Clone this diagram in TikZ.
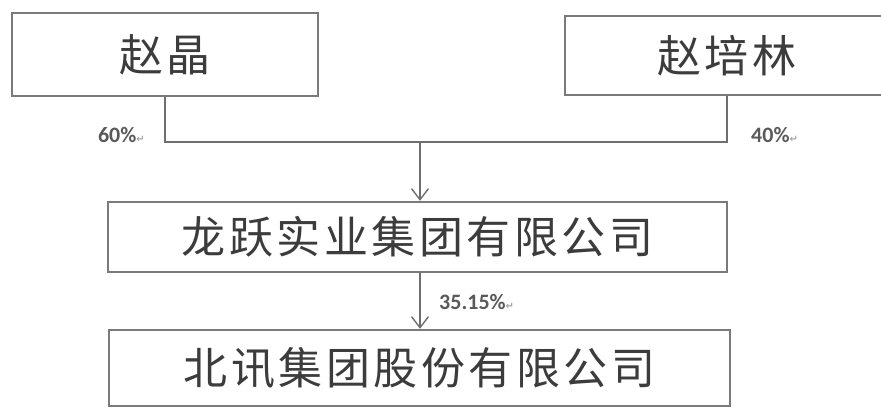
\documentclass[tikz,border=0pt]{standalone}
\usepackage{fontspec}
\usetikzlibrary{arrows.meta}
\newfontfamily\cjk[LetterSpace=8]{Noto Sans CJK SC}
\newfontfamily\pctfont{Carlito}
\newfontfamily\symfont{DejaVu Sans}
\definecolor{boxline}{HTML}{7A7A7A}
\definecolor{conline}{HTML}{6E6E6E}
\definecolor{txt}{HTML}{3C3C3C}
\definecolor{pct}{HTML}{5A5A5A}
\newcommand{\retmark}{{\symfont\fontsize{10}{10}\selectfont\color{gray!70}↵}}
\tikzset{
  entbox/.style={draw=boxline, line width=2.4pt, inner sep=0pt, text=txt,
    font=\cjk\fontsize{44}{50}\selectfont},
  conn/.style={draw=conline, line width=1.8pt},
  arr/.style={conn, -{Straight Barb[length=11pt,width=17pt,line width=1.4pt]}},
  pctlabel/.style={inner sep=0pt, text=pct, font=\pctfont\bfseries\fontsize{22}{24}\selectfont}
}
\begin{document}
\begin{tikzpicture}[x=1pt,y=-1pt]
\useasboundingbox[fill=white] (0,0) rectangle (881,409);
\clip (0,0) rectangle (881,409);
\node[entbox, minimum width=306pt, minimum height=83pt] (b1) at (165,54.5) {赵晶};
\node[entbox, minimum width=324pt, minimum height=79pt] (b2) at (727,55.5) {赵培林};
\node[entbox, minimum width=619pt, minimum height=70pt] (b3) at (417.5,237) {龙跃实业集团有限公司};
\node[entbox, minimum width=621pt, minimum height=76pt] (b4) at (419.5,368) {北讯集团股份有限公司};
\coordinate (j) at (420,142);
\draw[conn] (b1.south) |- (j) -- (b2.south |- j) -- (b2.south);
\draw[arr] (j) -- (j |- b3.north);
\draw[arr] (j |- b3.south) -- (j |- b4.north);
\node[pctlabel, anchor=east] (l1) at (145,135) {60\%\retmark};
\node[pctlabel, anchor=west] (l2) at (751,135) {40\%\retmark};
\node[pctlabel, anchor=west] (l3) at (439,302) {35.15\%\retmark};
\end{tikzpicture}
\end{document}
